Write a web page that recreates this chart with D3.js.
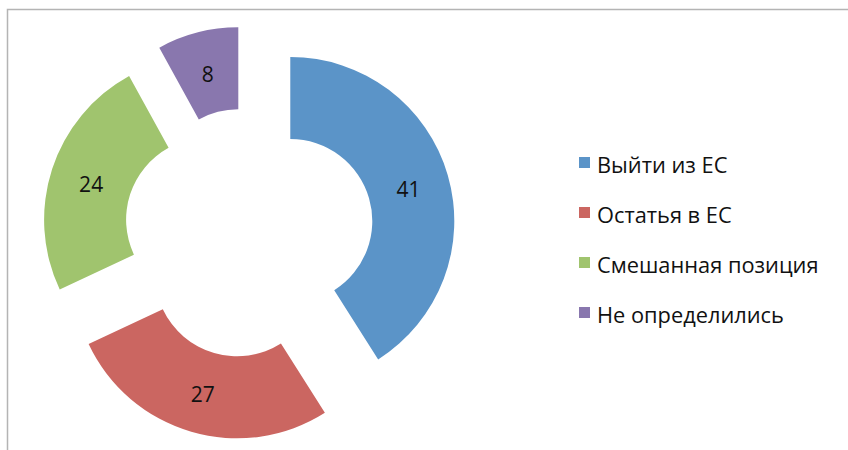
<!DOCTYPE html>
<html>
<head>
<meta charset="utf-8">
<script src="https://cdn.jsdelivr.net/npm/d3@7"></script>
<style>
  body { margin: 0; background: #fff; }
  svg text { font-family: "Open Sans", Lato, sans-serif; fill: #111; }
</style>
</head>
<body>
<div id="chart"></div>
<script>
// chart data
const categories = ["Выйти из ЕС", "Остатья в ЕС", "Смешанная позиция", "Не определились"];
const values = [41, 27, 24, 8];
const colors = ["#5B94C8", "#CB6661", "#A0C46E", "#8977AE"];

const width = 848, height = 450;
const cx = 249, cy = 233;
const outerR = 164, innerR = 82;
const explode = 43;  // every slice pulled out by the same distance

const svg = d3.select("#chart").append("svg")
    .attr("width", width)
    .attr("height", height);

// frame of the chart area (only top and left edges are visible)
svg.append("rect")
    .attr("x", 7.5)
    .attr("y", 9.5)
    .attr("width", 900)
    .attr("height", 500)
    .attr("fill", "none")
    .attr("stroke", "#b4b4b4")
    .attr("stroke-width", 1.5);

const data = categories.map((c, i) => ({ name: c, value: values[i], color: colors[i] }));

const pie = d3.pie().sort(null).value(d => d.value);
const arc = d3.arc().innerRadius(innerR).outerRadius(outerR);
const labelArc = d3.arc().innerRadius((innerR + outerR) / 2).outerRadius((innerR + outerR) / 2);

const g = svg.append("g").attr("transform", `translate(${cx},${cy})`);

const slices = g.selectAll(".slice")
    .data(pie(data))
    .enter()
    .append("g")
    .attr("class", "slice")
    .attr("transform", d => {
        const mid = (d.startAngle + d.endAngle) / 2;
        return `translate(${Math.sin(mid) * explode},${-Math.cos(mid) * explode})`;
    });

slices.append("path")
    .attr("d", arc)
    .attr("fill", d => d.data.color);

slices.append("text")
    .attr("x", d => labelArc.centroid(d)[0])
    .attr("y", d => labelArc.centroid(d)[1] + 2)
    .attr("text-anchor", "middle")
    .attr("dominant-baseline", "central")
    .style("font-size", "21px")
    .text(d => d.data.value);

// legend
const legendY = d3.scalePoint().domain(categories).range([163, 313]);

const legend = svg.append("g").attr("class", "legend");

legend.selectAll("rect")
    .data(data)
    .enter()
    .append("rect")
    .attr("x", 579)
    .attr("y", d => legendY(d.name) - 6)
    .attr("width", 11)
    .attr("height", 11)
    .attr("fill", d => d.color);

legend.selectAll("text")
    .data(data)
    .enter()
    .append("text")
    .attr("x", 597)
    .attr("y", d => legendY(d.name) + 1)
    .attr("dominant-baseline", "central")
    .style("font-size", "21.8px")
    .text(d => d.name);
</script>
</body>
</html>
